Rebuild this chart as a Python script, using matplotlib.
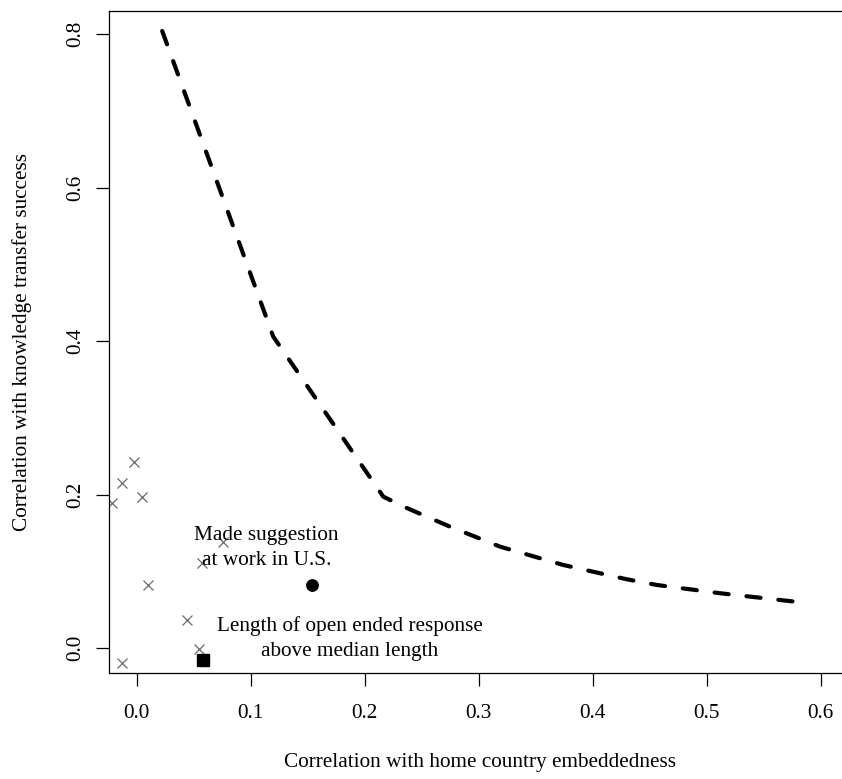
import matplotlib
matplotlib.use("Agg")
import matplotlib.pyplot as plt

# other items (gray crosses)
other_x = [-0.0219, -0.0132, -0.0021, 0.0049, 0.0754, 0.0570, 0.0102, 0.0439, 0.0549, -0.0126]
other_y = [0.189, 0.215, 0.242, 0.197, 0.139, 0.1115, 0.0825, 0.0369, -0.0013, -0.0195]

# highlighted items
sugg_x, sugg_y = 0.1538, 0.0825
length_x, length_y = 0.0579, -0.0152

# dashed frontier
curve_x = [0.0224, 0.1198, 0.2163, 0.2354, 0.2748, 0.3187, 0.3742, 0.4298, 0.4561, 0.5117, 0.5775]
curve_y = [0.804, 0.406, 0.1975, 0.1837, 0.1584, 0.1324, 0.1085, 0.0899, 0.0825, 0.0717, 0.0607]

xticks = [0.0, 0.1, 0.2, 0.3, 0.4, 0.5, 0.6]
yticks = [0.0, 0.2, 0.4, 0.6, 0.8]

plt.rcParams['font.family'] = ['Liberation Serif', 'DejaVu Serif']
fs = 15.3

W, H = 842, 779
fig = plt.figure(figsize=(W / 100, H / 100), dpi=100)
left, right, top, bottom = 109.3, 851, 11, 672.7
ax = fig.add_axes([left / W, 1 - bottom / H, (right - left) / W, (bottom - top) / H])

ax.plot(curve_x, curve_y, color='black', lw=3, dashes=(3.4, 4.3),
        dash_capstyle='round', solid_joinstyle='round')
ax.plot(other_x, other_y, linestyle='none', marker='x', ms=7.5, mew=0.9, color='#6a6a6a')
ax.plot([sugg_x], [sugg_y], linestyle='none', marker='o', ms=8.2, color='black')
ax.plot([length_x], [length_y], linestyle='none', marker='s', ms=8.2, color='black')

ax.text(0.1139, 0.1303, "Made suggestion\nat work in U.S.", ha='center', va='center',
        fontsize=fs, linespacing=1.45)
ax.text(0.187, 0.013, "Length of open ended response\nabove median length", ha='center', va='center',
        fontsize=fs, linespacing=1.45)

ax.set_xlim(-0.024, 0.6266)
ax.set_ylim(-0.0318, 0.830)
ax.set_xticks(xticks)
ax.set_xticklabels([f"{v:.1f}" for v in xticks])
ax.set_yticks(yticks)
ax.set_yticklabels([f"{v:.1f}" for v in yticks], rotation=90, va='center')
ax.tick_params(axis='both', length=9.4, width=0.9, labelsize=fs, direction='out')
ax.tick_params(axis='x', pad=13)
ax.tick_params(axis='y', pad=8)
for s in ax.spines.values():
    s.set_linewidth(0.9)
ax.spines['right'].set_visible(False)

fig.text(480 / W, 1 - 763 / H, "Correlation with home country embeddedness",
         ha='center', va='center', fontsize=fs)
fig.text(22 / W, 1 - 342 / H, "Correlation with knowledge transfer success",
         ha='center', va='center', rotation=90, fontsize=fs)

fig.savefig("out.png", dpi=100)
